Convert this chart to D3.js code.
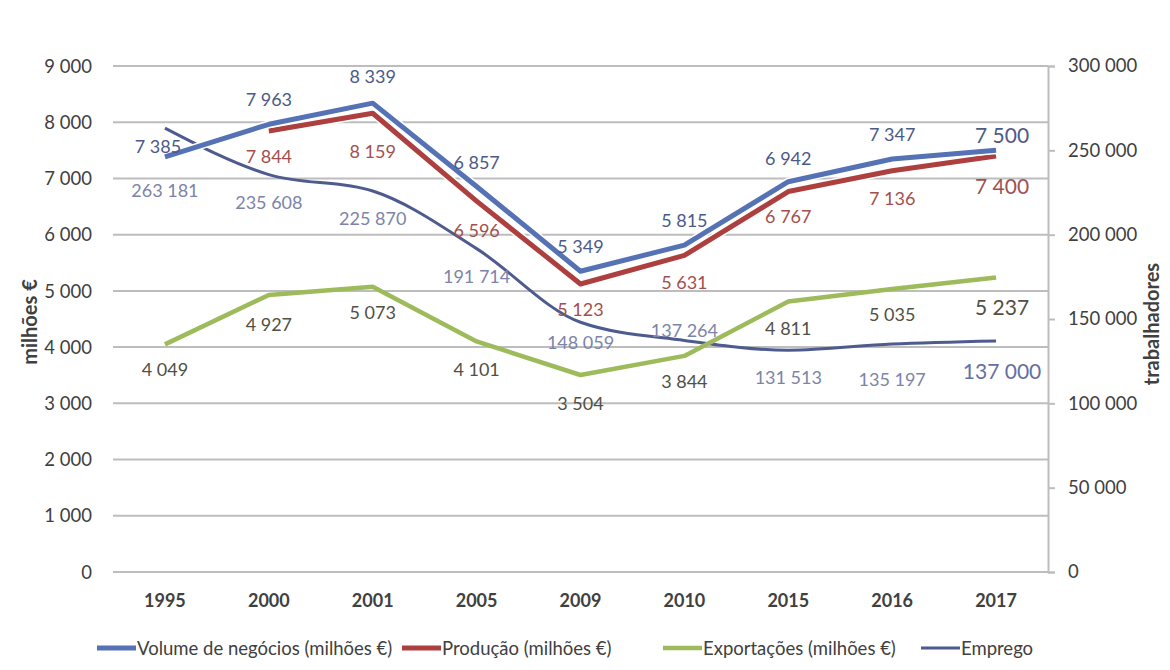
<!DOCTYPE html>
<html>
<head>
<meta charset="utf-8">
<script src="https://cdn.jsdelivr.net/npm/d3@7"></script>
<style>
  body { margin: 0; background: #fff; }
  svg text { font-family: Lato, "Open Sans", sans-serif; }
</style>
</head>
<body>
<div id="chart"></div>
<script>
// Data
const years = ['1995', '2000', '2001', '2005', '2009', '2010', '2015', '2016', '2017'];
const volume = [7385, 7963, 8339, 6857, 5349, 5815, 6942, 7347, 7500];
const producao = [null, 7844, 8159, 6596, 5123, 5631, 6767, 7136, 7400];
const exportacoes = [4049, 4927, 5073, 4101, 3504, 3844, 4811, 5035, 5237];
const emprego = [263181, 235608, 225870, 191714, 148059, 137264, 131513, 135197, 137000];
const leftTicks = [0, 1000, 2000, 3000, 4000, 5000, 6000, 7000, 8000, 9000];
const rightTicks = [0, 50000, 100000, 150000, 200000, 250000, 300000];

// Label placement (vertical offset from point) per series
const volumeDy = [-10, -25, -27, -24, -25, -25, -23, -24, -15];
const producaoDy = [0, 26, 38, 29, 26, 27, 25, 28, 30];
const exportDy = [25, 30, 26, 28, 29, 26, 27, 26, 30];
const empregoDy = [62, 28, 27, 28, 20, -10, 27, 36, 31];

const width = 1170, height = 670;
const margin = { left: 113, right: 1048, top: 66, bottom: 572 };

const svg = d3.select('#chart')
  .append('svg')
  .attr('width', width)
  .attr('height', height);

const x = d3.scalePoint()
  .domain(years)
  .range([margin.left, margin.right])
  .padding(0.5);

const yLeft = d3.scaleLinear().domain([0, 9000]).range([margin.bottom, margin.top]);
const yRight = d3.scaleLinear().domain([0, 300000]).range([margin.bottom, margin.top]);

const fmtSp = v => d3.format(',')(v).replace(/,/g, ' ');

// Gridlines
svg.append('g')
  .selectAll('line')
  .data(leftTicks)
  .enter()
  .append('line')
  .attr('x1', margin.left)
  .attr('x2', margin.right)
  .attr('y1', d => yLeft(d))
  .attr('y2', d => yLeft(d))
  .attr('stroke', '#bdbdbd')
  .attr('stroke-width', 2);

// Left axis labels
svg.append('g')
  .selectAll('text')
  .data(leftTicks)
  .enter()
  .append('text')
  .attr('x', 92)
  .attr('y', d => yLeft(d))
  .attr('dy', '0.36em')
  .attr('text-anchor', 'end')
  .attr('fill', '#404040')
  .style('font-size', '18.5px')
  .text(d => fmtSp(d));

// Right axis
const rightAxis = d3.axisRight(yRight)
  .tickValues(rightTicks)
  .tickSize(7)
  .tickFormat(d => fmtSp(d));

const ra = svg.append('g')
  .attr('transform', `translate(${margin.right},0)`)
  .call(rightAxis);
ra.select('.domain').attr('stroke', '#bdbdbd').attr('stroke-width', 2);
ra.selectAll('.tick line').attr('stroke', '#bdbdbd').attr('stroke-width', 2);
ra.selectAll('.tick text')
  .attr('x', 20)
  .attr('fill', '#404040')
  .style('font-size', '18.5px')
  .style('font-family', 'Lato, sans-serif');

// X axis labels
svg.append('g')
  .selectAll('text')
  .data(years)
  .enter()
  .append('text')
  .attr('x', d => x(d))
  .attr('y', 601)
  .attr('dy', '0.36em')
  .attr('text-anchor', 'middle')
  .attr('fill', '#404040')
  .style('font-size', '18px')
  .style('font-weight', 'bold')
  .text(d => d);

// Axis titles
svg.append('text')
  .attr('transform', 'translate(37,322) rotate(-90)')
  .attr('text-anchor', 'middle')
  .attr('fill', '#404040')
  .style('font-size', '20px')
  .style('font-weight', 'bold')
  .text('milhões €');

svg.append('text')
  .attr('transform', 'translate(1159,324) rotate(-90)')
  .attr('text-anchor', 'middle')
  .attr('fill', '#404040')
  .style('font-size', '20px')
  .style('font-weight', 'bold')
  .text('trabalhadores');

// Series
const series = [
  { name: 'Volume de negócios (milhões €)', values: volume, scale: yLeft, color: '#5572b5', width: 5, label: '#4b5a88', dys: volumeDy, curve: d3.curveLinear },
  { name: 'Produção (milhões €)', values: producao, scale: yLeft, color: '#ad403e', width: 5, label: '#a2504e', dys: producaoDy, curve: d3.curveLinear },
  { name: 'Exportações (milhões €)', values: exportacoes, scale: yLeft, color: '#9dbb5b', width: 4.5, label: '#505044', dys: exportDy, curve: d3.curveLinear },
  { name: 'Emprego', values: emprego, scale: yRight, color: '#4e5b8f', width: 3, label: '#7c84aa', dys: empregoDy, curve: d3.curveMonotoneX }
];

const drawOrder = [3, 2, 1, 0];
drawOrder.forEach(i => {
  const s = series[i];
  const line = d3.line()
    .defined(d => d != null)
    .x((d, j) => x(years[j]))
    .y(d => s.scale(d))
    .curve(s.curve);
  if (i < 2) {
    svg.append('path')
      .attr('d', line(s.values))
      .attr('fill', 'none')
      .attr('stroke', '#ffffff')
      .attr('stroke-width', s.width + 3)
      .attr('stroke-linejoin', 'round');
  }
  svg.append('path')
    .attr('d', line(s.values))
    .attr('fill', 'none')
    .attr('stroke', s.color)
    .attr('stroke-width', s.width)
    .attr('stroke-linejoin', 'round');
});

// Data labels
series.forEach(s => {
  svg.append('g')
    .selectAll('text')
    .data(s.values.map((v, j) => ({ v, j })).filter(d => d.v != null))
    .enter()
    .append('text')
    .attr('x', d => x(years[d.j]) + (d.j === 8 ? 6 : (d.j === 0 && s.values === volume ? -7 : 0)))
    .attr('y', d => s.scale(d.v) + s.dys[d.j])
    .attr('dy', '0.36em')
    .attr('text-anchor', 'middle')
    .attr('fill', d => (d.j === 8 && s.values === emprego) ? '#6270a6' : s.label)
    .style('font-size', d => d.j === 8 ? '21px' : '18px')
    .text(d => fmtSp(d.v));
});

// Legend
const legendX = [97, 402, 663, 921];
const legend = svg.append('g');
series.forEach((s, i) => {
  legend.append('line')
    .attr('x1', legendX[i])
    .attr('x2', legendX[i] + 39)
    .attr('y1', 648)
    .attr('y2', 648)
    .attr('stroke', s.color)
    .attr('stroke-width', s.width);
  legend.append('text')
    .attr('x', legendX[i] + 40)
    .attr('y', 648)
    .attr('dy', '0.36em')
    .attr('fill', '#404040')
    .style('font-size', '18.5px')
    .text(s.name);
});
</script>
</body>
</html>
